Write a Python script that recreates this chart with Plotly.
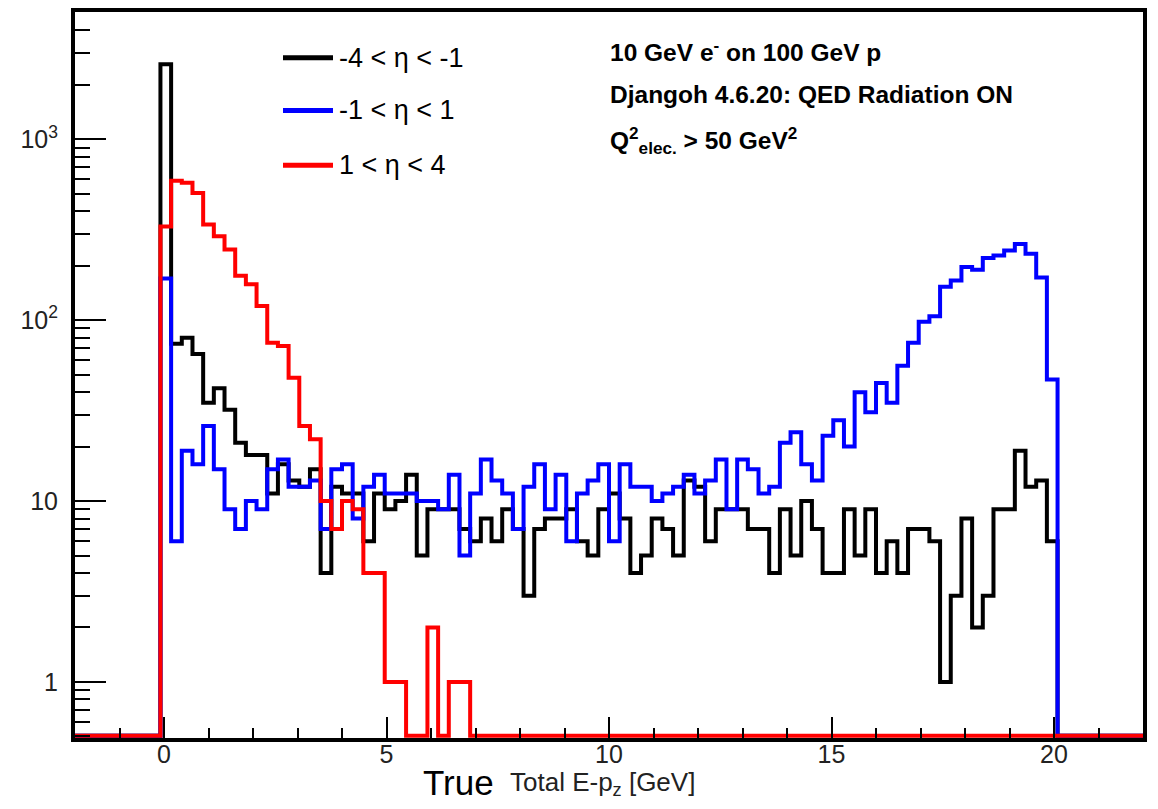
import plotly.graph_objects as go

# Histogram definition (ROOT-style): 100 bins from -2 to 22
x_lo = -2.0
bin_w = 0.24
n_bins = 100
first_bin = 8  # data arrays start at bin edge -0.08

# Counts per bin, starting at the bin [-0.08, 0.16]
black = [2600, 74, 80, 65, 35, 42, 32, 21, 18, 18, 11, 16, 13, 12, 15, 4, 12, 11, 11, 6,
         11, 9, 10, 14, 5, 9, 9, 9, 7, 6, 8, 6, 9, 7, 3, 7, 8, 8, 9, 6,
         5, 9, 11, 8, 4, 5, 8, 7, 5, 13, 12, 6, 9, 9, 9, 7, 7, 4, 9, 5,
         10, 7, 4, 4, 9, 5, 9, 4, 6, 4, 7, 7, 6, 1, 3, 8, 2, 3, 9, 9,
         19, 12, 13, 6]
blue = [170, 6, 19, 16, 26, 15, 9, 7, 10, 9, 15, 17, 12, 12, 13, 7, 15, 16, 8, 12,
        14, 11, 11, 11, 10, 10, 9, 14, 5, 11, 17, 13, 11, 7, 12, 16, 9, 14, 6, 11,
        13, 16, 6, 16, 12, 12, 10, 11, 12, 14, 11, 13, 17, 9, 17, 15, 11, 12, 21, 24,
        16, 13, 23, 28, 20, 40, 31, 45, 35, 56, 75, 98, 105, 153, 166, 197, 190, 221, 228, 243,
        264, 233, 172, 47]
red = [330, 590, 575, 505, 338, 291, 246, 176, 158, 120, 75, 72, 48, 26, 22, 10, 7, 10, 9, 4,
       4, 1, 1, 0, 0, 2, 0, 1, 1, 0, 0, 0, 0, 0, 0, 0, 0, 0, 0, 0,
       0, 0, 0, 0, 0, 0, 0, 0, 0, 0, 0, 0, 0, 0, 0, 0, 0, 0, 0, 0,
       0, 0, 0, 0, 0, 0, 0, 0, 0, 0, 0, 0, 0, 0, 0, 0, 0, 0, 0, 0,
       0, 0, 0, 0]

labels = ["-4 < \u03b7 < -1", "-1 < \u03b7 < 1", "1 < \u03b7 < 4"]
colors = ["#000000", "#0000ff", "#ff0000"]

y_tickvals = [1, 10, 100, 1000]
y_ticktext = ["1", "10", "10<sup>2</sup>", "10<sup>3</sup>"]
x_tickvals = [0, 5, 10, 15, 20]

y_range = [-0.31, 3.704]
y_floor = 10 ** (y_range[0] + 0.012)  # empty bins drawn at the frame bottom (ROOT log style)

W, H = 1158, 809
ML, MR, MT, MB = 75, 15, 8, 71
PW, PH = W - ML - MR, H - MT - MB


def px_x(px):
    return (px - ML) / PW


def px_y(py):
    return (H - MB - py) / PH


def outline(counts):
    full = [0] * first_bin + list(counts) + [0] * (n_bins - first_bin - len(counts))
    edges = [x_lo + bin_w * k for k in range(n_bins + 1)]
    ys = [c if c > 0 else y_floor for c in full]
    ys.append(ys[-1])
    return edges, ys


fig = go.Figure()
for counts, name, col in zip([black, blue, red], labels, colors):
    xs, ys = outline(counts)
    fig.add_trace(go.Scatter(x=xs, y=ys, mode="lines", line=dict(color=col, width=4, shape="hv"),
                             name=name, showlegend=False, hoverinfo="skip"))

font_main = "Liberation Sans, Arial, sans-serif"

fig.update_layout(
    width=W, height=H,
    margin=dict(l=ML, r=MR, t=MT, b=MB),
    paper_bgcolor="white", plot_bgcolor="white",
    showlegend=False,
    xaxis=dict(range=[-2, 22], tickmode="array", tickvals=x_tickvals,
               ticks="inside", ticklen=21, tickwidth=2, tickcolor="black",
               minor=dict(tickmode="array", tickvals=[v for v in range(-1, 22) if v % 5 != 0],
                          ticks="inside", ticklen=10, tickwidth=2, tickcolor="black"),
               showgrid=False, zeroline=False, showline=True, linewidth=4, linecolor="black",
               mirror=True, tickfont=dict(family=font_main, size=25, color="#222222"),
               ticklabelstandoff=-9),
    yaxis=dict(type="log", range=y_range, tickmode="array", tickvals=y_tickvals, ticktext=y_ticktext,
               ticks="inside", ticklen=31, tickwidth=2, tickcolor="black",
               minor=dict(tickmode="array",
                          tickvals=[m * 10 ** d for d in range(-1, 4) for m in range(2, 10)
                                    if 0.5 <= m * 10 ** d <= 5000],
                          ticks="inside", ticklen=15, tickwidth=2, tickcolor="black"),
               showgrid=False, zeroline=False, showline=True, linewidth=4, linecolor="black",
               mirror=True, tickfont=dict(family=font_main, size=25, color="#222222"),
               ticklabelstandoff=8),
)

# Legend (drawn manually to match the ROOT TLegend)
leg_y = [54, 107, 162]
for lab, col, yy in zip(labels, colors, leg_y):
    fig.add_shape(type="line", xref="paper", yref="paper",
                  x0=px_x(283), x1=px_x(333), y0=px_y(yy), y1=px_y(yy),
                  line=dict(color=col, width=5))
    fig.add_annotation(text=lab, xref="paper", yref="paper",
                       x=px_x(337), y=px_y(yy), xanchor="left", yanchor="middle", showarrow=False,
                       font=dict(family=font_main, size=27, color="black"))

info = ["10 GeV e<sup>-</sup> on 100 GeV p",
        "Djangoh 4.6.20: QED Radiation ON",
        "Q<sup>2</sup><sub>elec.</sub> > 50 GeV<sup>2</sup>"]
info_y = [47, 91, 137]
for t, yy in zip(info, info_y):
    fig.add_annotation(text="<b>" + t + "</b>", xref="paper", yref="paper",
                       x=px_x(608), y=px_y(yy), xanchor="left", yanchor="middle", showarrow=False,
                       font=dict(family=font_main, size=24.5, color="black"))

# x-axis title
fig.add_annotation(text="True", xref="paper", yref="paper",
                   x=px_x(421), y=px_y(783), xanchor="left", yanchor="middle",
                   showarrow=False, font=dict(family=font_main, size=35, color="black"))
fig.add_annotation(text="Total E-p<sub>z</sub> [GeV]", xref="paper", yref="paper",
                   x=px_x(508), y=px_y(784), xanchor="left", yanchor="middle",
                   showarrow=False, font=dict(family=font_main, size=26, color="#222222"))

fig.write_html("out.html", config={"displayModeBar": False},
               post_script="document.body.style.margin='0';")
